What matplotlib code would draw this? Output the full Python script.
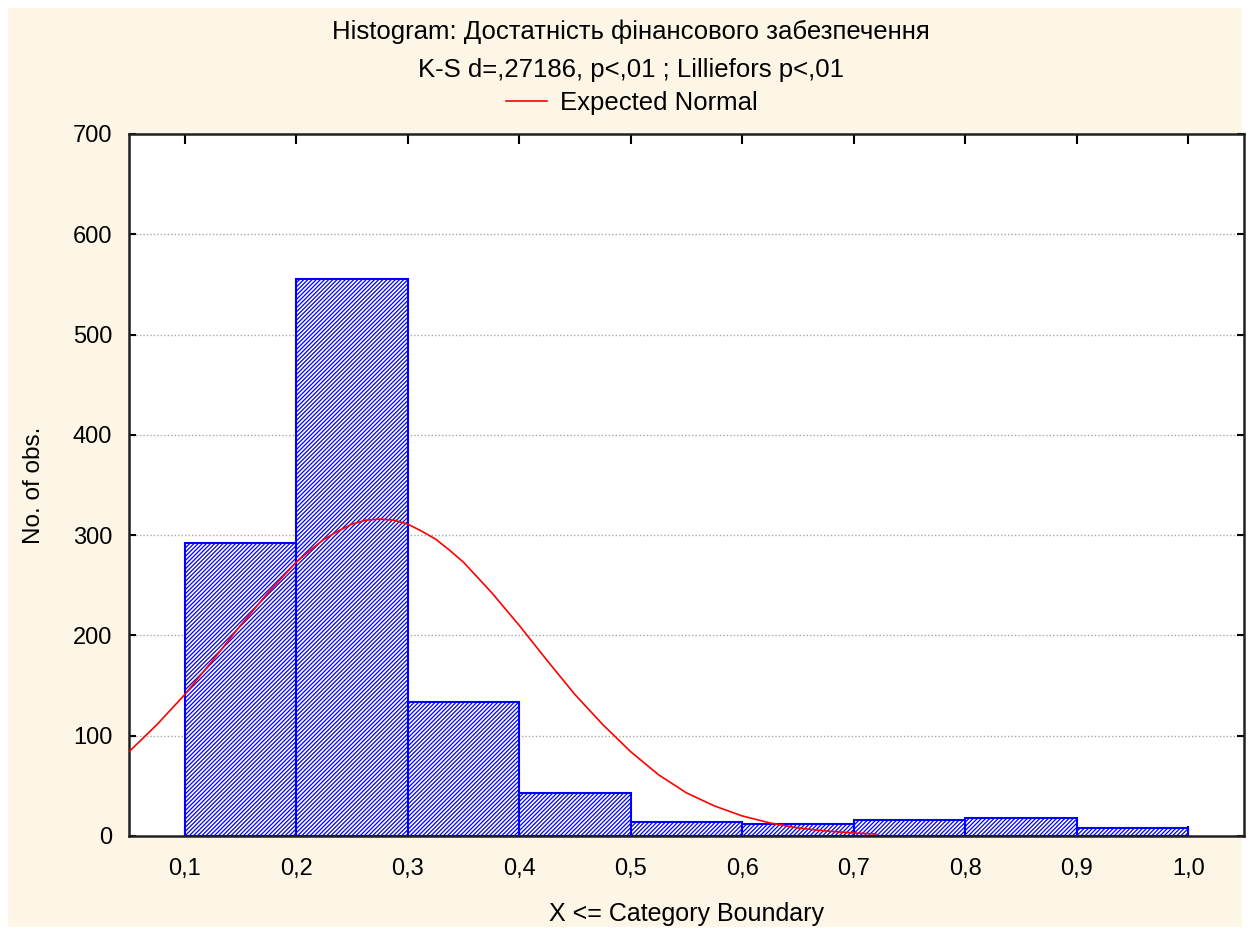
import matplotlib
matplotlib.use("Agg")
import matplotlib.pyplot as plt

# Data
bin_left = [0.1, 0.2, 0.3, 0.4, 0.5, 0.6, 0.7, 0.8, 0.9]
counts = [292, 555, 134, 43, 14, 12, 16, 18, 8]
bin_width = 0.1

curve_x = [0.05, 0.075, 0.1, 0.125, 0.15, 0.175, 0.2, 0.2125, 0.225, 0.2375,
           0.25, 0.2625, 0.275, 0.2875, 0.3, 0.3125, 0.325, 0.3375, 0.35,
           0.375, 0.4, 0.425, 0.45, 0.475, 0.5, 0.525,
           0.55, 0.575, 0.6, 0.625, 0.65, 0.675, 0.7, 0.72]
curve_y = [84, 111, 141, 175, 210, 243, 273, 285, 296, 304,
           311, 315, 316, 315, 311, 304, 296, 285, 273,
           243, 210, 175, 141, 111, 84, 61,
           43, 30, 20, 13, 8, 5, 3, 2]

x_ticks = [0.1, 0.2, 0.3, 0.4, 0.5, 0.6, 0.7, 0.8, 0.9, 1.0]
x_ticklabels = ["0,1", "0,2", "0,3", "0,4", "0,5", "0,6", "0,7", "0,8", "0,9", "1,0"]
y_ticks = [0, 100, 200, 300, 400, 500, 600, 700]

title1 = "Histogram: Достатність фінансового забезпечення"
title2 = "K-S d=,27186, p<,01 ; Lilliefors p<,01"
legend_label = "Expected Normal"
xlabel = "X <= Category Boundary"
ylabel = "No. of obs."

plt.rcParams['font.family'] = ['Liberation Sans', 'DejaVu Sans']
plt.rcParams['hatch.color'] = '#0000ff'
plt.rcParams['hatch.linewidth'] = 0.9

bg = '#fdf6e6'
fig = plt.figure(figsize=(12.5, 9.35), dpi=100, facecolor='white')
fig.patches.append(plt.Rectangle((8/1250, 8/935), 1 - 16/1250, 1 - 16/935,
                                 transform=fig.transFigure, facecolor=bg,
                                 edgecolor='none', zorder=-10))

ax = fig.add_axes([129/1250, 1 - 836/935, (1244 - 129)/1250, (836 - 134)/935])
ax.set_facecolor('white')

for yv in y_ticks[1:-1]:
    ax.axhline(yv, color='#a8a8a8', lw=1.0, ls=(0, (1, 1.5)), zorder=1)

ax.bar(bin_left, counts, width=bin_width, align='edge', facecolor='white',
       edgecolor='#0000ff', linewidth=1.5, hatch='////////', zorder=2)

ax.plot(curve_x, curve_y, color='#ff0000', lw=1.2, zorder=3, label=legend_label)

ax.set_xlim(0.05, 1.05)
ax.set_ylim(0, 700)
ax.set_xticks(x_ticks)
ax.set_xticklabels(x_ticklabels)
ax.set_yticks(y_ticks)
ax.tick_params(direction='in', length=7, width=1.5, top=True, right=True,
               labelsize=17, colors='black', pad=16)
ax.tick_params(axis='y', length=5, pad=12)
for s in ax.spines.values():
    s.set_linewidth(1.8)
    s.set_color('#202020')

ax.set_xlabel(xlabel, fontsize=18, labelpad=16)
ax.set_ylabel(ylabel, fontsize=17.5, labelpad=20)

fig.text(0.505, 1 - 32/935, title1, ha='center', va='center', fontsize=18.5)
fig.text(0.505, 1 - 70/935, title2, ha='center', va='center', fontsize=18.5)
leg = fig.legend(loc='center', bbox_to_anchor=(0.5056, 1 - 103/935), frameon=False,
                 fontsize=18.5, handlelength=1.6, handletextpad=0.5)

fig.savefig('out.png', dpi=100, facecolor='white')
